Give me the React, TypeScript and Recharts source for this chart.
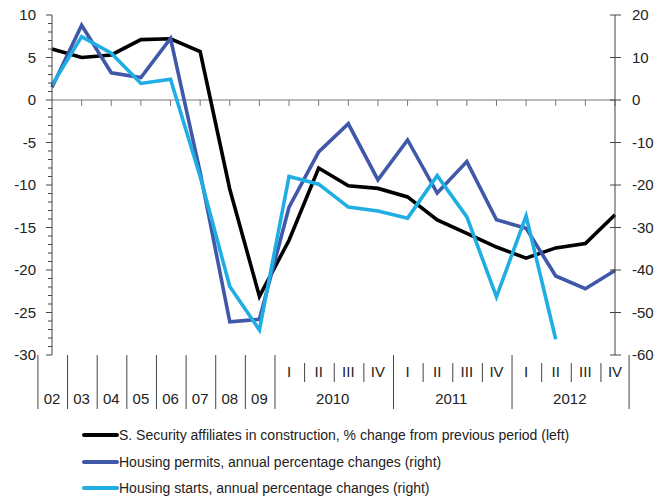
import React from "react";
import { LineChart, Line, XAxis, YAxis, ReferenceLine, Legend } from "recharts";

const periods = ["02", "03", "04", "05", "06", "07", "08", "09", "I", "II", "III", "IV", "I", "II", "III", "IV", "I", "II", "III", "IV"];
const years = ["2010", "2011", "2012"];

// left axis: % change from previous period
const affiliates = [6.0, 5.0, 5.3, 7.1, 7.2, 5.7, -10.5, -23.1, -16.5, -8.0, -10.1, -10.4, -11.4, -14.1, -15.7, -17.3, -18.6, -17.4, -16.9, -13.5];
// right axis: annual % changes
const permits = [3.0, 17.6, 6.4, 5.3, 14.5, -17, -52.2, -51.6, -25.2, -12.2, -5.6, -18.8, -9.4, -21.9, -14.5, -28.2, -30.2, -41.4, -44.4, -40.1];
const starts: (number | null)[] = [3.5, 14.9, 11.0, 3.9, 4.9, -18, -43.9, -54.1, -18.0, -19.8, -25.2, -26.1, -27.8, -17.8, -27.5, -46.3, -27.3, -56.3, null, null];

const leftTicks = Array.from({ length: 41 }, (_, i) => -30 + i);
const rightTicks = [-60, -50, -40, -30, -20, -10, 0, 10, 20];
const zeroTicks = Array.from({ length: 19 }, (_, i) => i + 1);

const SERIES = [
  { key: "affiliates", name: "S. Security affiliates in construction, % change from previous period (left)", color: "#000000", axis: "left" },
  { key: "permits", name: "Housing permits, annual percentage changes (right)", color: "#3F58A8", axis: "right" },
  { key: "starts", name: "Housing starts, annual percentage changes (right)", color: "#1FAEE3", axis: "right" },
];

const data = periods.map((p, i) => ({
  id: i,
  label: p,
  affiliates: affiliates[i],
  permits: permits[i],
  starts: starts[i],
}));

const FONT = "'Liberation Sans', Arial, sans-serif";
const AXIS = "#444";
const W = 659;
const H = 503;
const M = { top: 15, right: 0, bottom: 0, left: 0 };
const LEFT_W = 52;
const RIGHT_W = 44;
const BAND = (W - LEFT_W - RIGHT_W) / periods.length;

const LeftTick = (props: any) => {
  const { x, y, payload } = props;
  const v = payload.value as number;
  const major = v % 5 === 0;
  return (
    <g>
      <line x1={x - (major ? 6 : 4)} x2={x} y1={y} y2={y} stroke={AXIS} strokeWidth={1} />
      {major && (
        <text x={x - 16} y={y} dy="0.36em" textAnchor="end" fontSize={15} fontFamily={FONT} fill="#222">
          {v}
        </text>
      )}
    </g>
  );
};

const RightTick = (props: any) => {
  const { x, y, payload } = props;
  return (
    <g>
      <line x1={x - 5} x2={x + 6} y1={y} y2={y} stroke={AXIS} strokeWidth={1} />
      <text x={x + 17} y={y} dy="0.36em" textAnchor="start" fontSize={15} fontFamily={FONT} fill="#222">
        {payload.value}
      </text>
    </g>
  );
};

// category boxes under the plot: yearly cells, then quarters grouped by year
const BottomTick = (props: any) => {
  const { x, y, payload } = props;
  const i = payload.value as number;
  const label = periods[i];
  const left = x - BAND / 2;
  const right = x + BAND / 2;
  const fullSep = i <= 8 || (i - 8) % 4 === 0;
  const yearIdx = i >= 8 && (i - 8) % 4 === 1 ? (i - 9) / 4 : -1;
  return (
    <g fontFamily={FONT} fontSize={15} fill="#222">
      {fullSep ? (
        <line x1={left} x2={left} y1={y} y2={y + 54} stroke={AXIS} />
      ) : (
        <line x1={left} x2={left} y1={y + 8} y2={y + 27} stroke={AXIS} />
      )}
      {i === periods.length - 1 && <line x1={right} x2={right} y1={y} y2={y + 54} stroke={AXIS} />}
      {i < 8 ? (
        <text x={x} y={y + 49} textAnchor="middle">{label}</text>
      ) : (
        <text x={x} y={y + 22} textAnchor="middle">{label}</text>
      )}
      {yearIdx >= 0 && (
        <text x={right} y={y + 49} textAnchor="middle">{years[yearIdx]}</text>
      )}
    </g>
  );
};

const LegendBox = () => (
  <div style={{ fontFamily: FONT, fontSize: 14, color: "#222" }}>
    {SERIES.map((s) => (
      <div key={s.key} style={{ display: "flex", alignItems: "center", height: 26.5 }}>
        <div style={{ width: 37, height: 4, background: s.color, borderRadius: 2 }} />
        <span style={{ whiteSpace: "nowrap" }}>{s.name}</span>
      </div>
    ))}
  </div>
);

export default function App() {
  return (
    <div style={{ position: "absolute", left: 0, top: 0, width: W, height: H, background: "#fff" }}>
      <LineChart width={W} height={H} data={data} margin={M}>
        <XAxis
          dataKey="id"
          type="category"
          height={148}
          interval={0}
          axisLine={false}
          tickLine={false}
          tickSize={0}
          tickMargin={0}
          tick={<BottomTick />}
        />
        <XAxis xAxisId="num" type="number" domain={[0, 20]} hide />
        <YAxis
          yAxisId="left"
          orientation="left"
          width={LEFT_W}
          domain={[-30, 10]}
          ticks={leftTicks}
          interval={0}
          stroke={AXIS}
          tickLine={false}
          tickSize={0}
          tickMargin={0}
          tick={<LeftTick />}
        />
        <YAxis
          yAxisId="right"
          orientation="right"
          width={RIGHT_W}
          domain={[-60, 20]}
          ticks={rightTicks}
          interval={0}
          stroke={AXIS}
          tickLine={false}
          tickSize={0}
          tickMargin={0}
          tick={<RightTick />}
        />
        <ReferenceLine yAxisId="left" y={0} stroke="#777" strokeWidth={1} />
        {zeroTicks.map((t) => (
          <ReferenceLine
            key={t}
            xAxisId="num"
            yAxisId="left"
            segment={[{ x: t, y: 0 }, { x: t, y: -0.7 }]}
            stroke="#777"
            strokeWidth={1}
          />
        ))}
        {SERIES.map((s) => (
          <Line
            key={s.key}
            yAxisId={s.axis}
            type="linear"
            dataKey={s.key}
            name={s.name}
            stroke={s.color}
            strokeWidth={3.6}
            dot={false}
            activeDot={false}
            isAnimationActive={false}
          />
        ))}
        <Legend
          layout="horizontal"
          verticalAlign="middle"
          align="center"
          wrapperStyle={{ left: 82, top: 422, width: 560 }}
          content={<LegendBox />}
        />
      </LineChart>
    </div>
  );
}
